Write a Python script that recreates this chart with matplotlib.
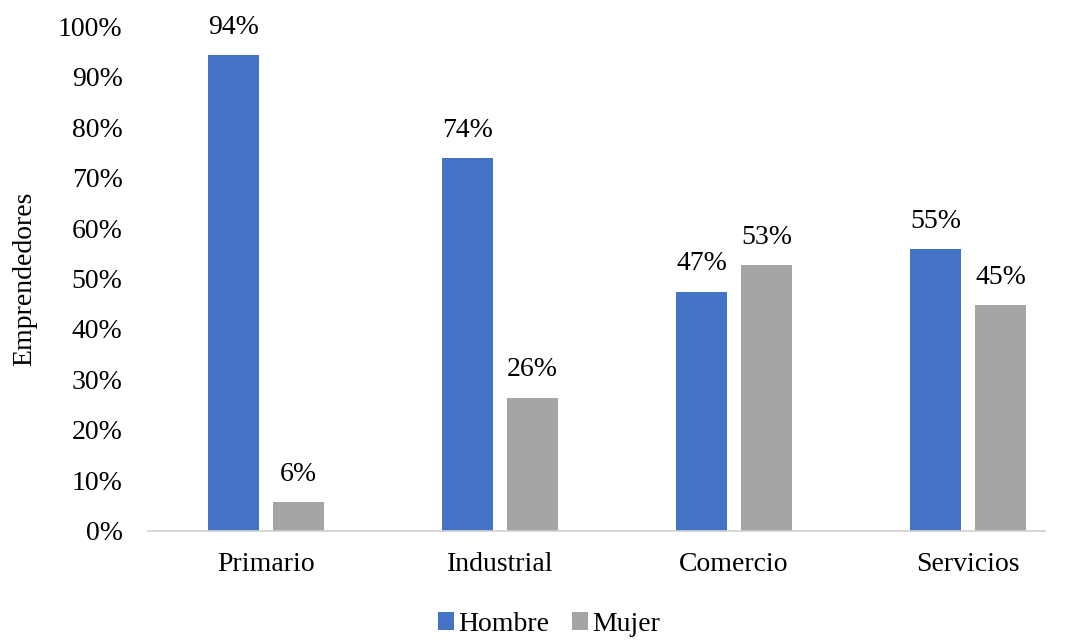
import numpy as np
import matplotlib.pyplot as plt
import matplotlib

matplotlib.rcParams.update({'font.size': 20, 'font.family': ['Liberation Serif', 'DejaVu Serif']})

sectores = ['Primario', 'Industrial', 'Comercio', 'Servicios']
hombre = [0.943, 0.739, 0.474, 0.558]
mujer = [0.057, 0.264, 0.526, 0.447]
etiq_hombre = ['94%', '74%', '47%', '55%']
etiq_mujer = ['6%', '26%', '53%', '45%']

azul = '#4472C4'
gris = '#A5A5A5'

fig = plt.figure(figsize=(10.7, 6.41), dpi=100)
ax = fig.add_axes([0.138, 0.172, 0.839, 0.787])

x = np.arange(len(sectores))
w = 0.218
b1 = ax.bar(x - 0.139, hombre, w, color=azul, label='Hombre')
b2 = ax.bar(x + 0.139, mujer, w, color=gris, label='Mujer')

for bars, labs in ((b1, etiq_hombre), (b2, etiq_mujer)):
    for b, lab in zip(bars, labs):
        ax.annotate(lab, (b.get_x() + b.get_width() / 2, b.get_height()),
                    xytext=(0, 11), textcoords='offset points',
                    ha='center', va='bottom')

ax.set_ylim(0, 1.0)
ax.set_xlim(-0.505, 3.33)
ax.set_yticks(np.arange(0, 1.01, 0.1))
ax.set_yticklabels([f'{int(round(v * 100))}%' for v in np.arange(0, 1.01, 0.1)])
ax.set_xticks(x)
ax.set_xticklabels(sectores)
ax.tick_params(axis='y', length=0, pad=18)
ax.tick_params(axis='x', length=0, pad=15)

for s in ['top', 'right', 'left']:
    ax.spines[s].set_visible(False)
ax.spines['bottom'].set_color('#D0D0D0')
ax.spines['bottom'].set_linewidth(1.2)

ax.set_ylabel('Emprendedores')
ax.yaxis.set_label_coords(-0.123, 0.5)

ax.legend(loc='lower center', bbox_to_anchor=(0.447, -0.26), ncol=2, frameon=False,
          handlelength=0.6, handleheight=0.6, handletextpad=0.15, columnspacing=0.8)

fig.savefig('out.png', dpi=100)
plt.close()
